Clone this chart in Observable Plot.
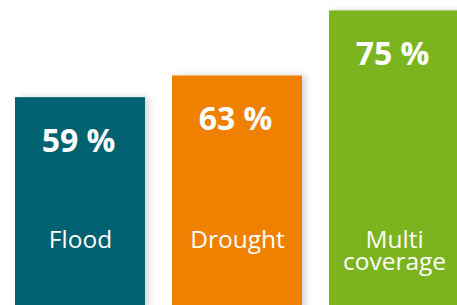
<!DOCTYPE html>
<html>
<head>
<meta charset="utf-8">
<script src="https://cdn.jsdelivr.net/npm/d3@7"></script>
<script src="https://cdn.jsdelivr.net/npm/@observablehq/plot@0.6"></script>
<style>
  html, body { margin: 0; padding: 0; background: #fff; overflow: hidden; }
  #chart svg { display: block; }
  g[aria-label="bar"] { filter: drop-shadow(4px 0px 3px rgba(0,0,0,0.16)); }
</style>
</head>
<body>
<div id="chart"></div>
<script>
const categories = ["Flood", "Drought", "Multi\ncoverage"];
const values = [59, 63, 75];
const valueLabels = ["59 %", "63 %", "75 %"];
const colors = ["#006170", "#f08100", "#7bb41e"];

const data = categories.map((c, i) => ({category: c, value: values[i], label: valueLabels[i], color: colors[i]}));

const chart = Plot.plot({
  width: 457,
  height: 305,
  margin: 0,
  style: {fontFamily: "'Open Sans', sans-serif", background: "#fff"},
  x: {domain: categories, range: [-13, 488], padding: 0.171, axis: null},
  y: {domain: [20, 77], range: [308.5, -0.4], axis: null},
  marks: [
    Plot.barY(data, {x: "category", y1: 20, y2: "value", fill: "color"}),
    Plot.text(data, {x: "category", y: "value", text: "label", dy: 54, dx: -2, lineAnchor: "bottom",
      fill: "white", fontSize: 32, fontWeight: "bold"}),
    Plot.text(data, {x: "category", text: "category", frameAnchor: "bottom", dy: -74, lineAnchor: "top",
      lineHeight: 0.93, fill: "white", fontSize: 24.5})
  ]
});
document.getElementById("chart").appendChild(chart);
</script>
</body>
</html>
